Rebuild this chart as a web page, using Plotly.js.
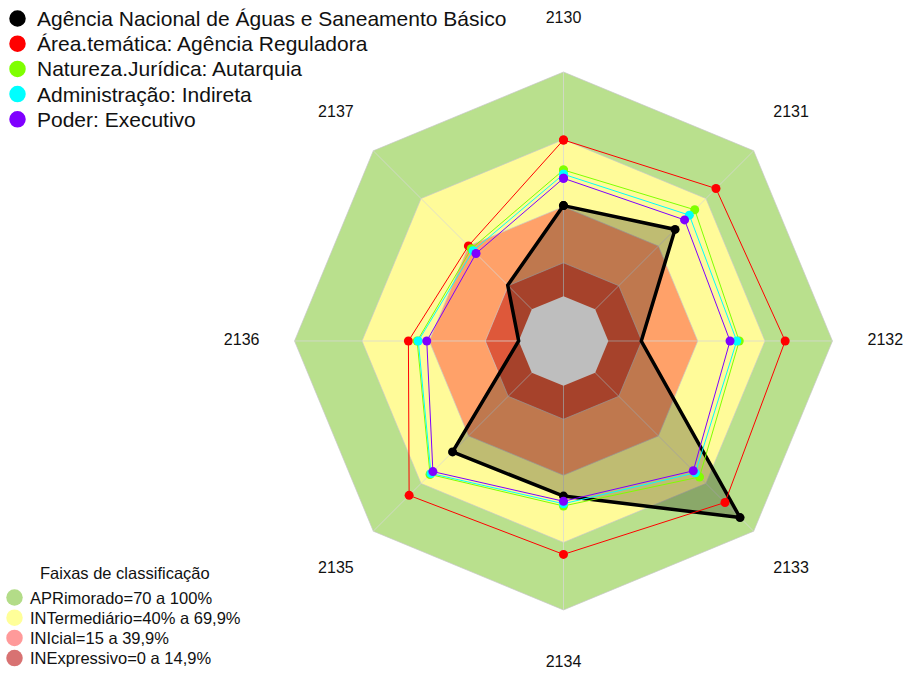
<!DOCTYPE html>
<html><head><meta charset="utf-8">
<script src="https://cdn.plot.ly/plotly-3.0.1.min.js"></script>
<style>html,body{margin:0;padding:0;background:#fff}</style>
</head><body><div id="chart" style="width:907px;height:673px"></div>
<script>
// ---- data ----
const categories = ['2130','2131','2132','2133','2134','2135','2136','2137'];
const seriesNames = [
  'Agência Nacional de Águas e Saneamento Básico',
  'Área.temática: Agência Reguladora',
  'Natureza.Jurídica: Autarquia',
  'Administração: Indireta',
  'Poder: Executivo'
];
const seriesColors = ['#000000', '#FF0000', '#7FFF00', '#00FFFF', '#7F00FF'];
const agencia          = [40.4, 50.4, 14.7, 91.4, 49.2, 50.0, 0.0, 15.2];
const areaTematica     = [69.7, 76.2, 78.9, 81.9, 75.2, 77.4, 49.2, 40.0];
const naturezaJuridica = [56.3, 62.8, 58.4, 65.8, 53.6, 64.2, 45.3, 38.2];
const administracao    = [54.4, 59.4, 57.3, 63.2, 52.6, 63.6, 44.8, 37.0];
const poder            = [52.6, 56.4, 54.3, 61.9, 51.5, 62.4, 41.0, 35.2];
const seriesValues = [agencia, areaTematica, naturezaJuridica, administracao, poder];

const bandTitle  = 'Faixas de classificação';
const bandNames  = ['APRimorado=70 a 100%', 'INTermediário=40% a 69,9%', 'INIcial=15 a 39,9%', 'INExpressivo=0 a 14,9%'];
const bandUpper  = [100, 69.9, 39.9, 14.9];
const bandColors = ['#B9E08D', '#FFFB99', '#FFA169', '#DE583A'];
const bandLegendColors = ['#B3DC88', '#FFFF99', '#FF9A9A', '#D87272'];
const centerValue = 0;
const radialRange = [-20, 125];
const labelRadius = 123.6;

// ---- helpers ----
const W = 907, H = 673;
const closeLoop = a => a.concat([a[0]]);
const thetaClosed = closeLoop(categories);
const fontFam = 'Arial, "Liberation Sans", sans-serif';
const px = x => x / W, py = y => 1 - y / H;

const traces = [];
// classification bands (outer to inner)
bandUpper.forEach((v, i) => {
  traces.push({
    type: 'scatterpolar', mode: 'lines', fill: 'toself',
    r: closeLoop(categories.map(() => v)), theta: thetaClosed,
    fillcolor: bandColors[i], line: {color: 'rgba(200,200,200,0.7)', width: 1},
    showlegend: false, hoverinfo: 'skip'
  });
});
// spokes over the bands
categories.forEach(c => {
  traces.push({
    type: 'scatterpolar', mode: 'lines',
    r: [radialRange[0], bandUpper[0]], theta: [c, c],
    line: {color: 'rgba(215,215,215,0.75)', width: 1},
    showlegend: false, hoverinfo: 'skip'
  });
});
// fill of the main series
traces.push({
  type: 'scatterpolar', mode: 'lines', fill: 'toself',
  r: closeLoop(agencia), theta: thetaClosed,
  fillcolor: 'rgba(0,0,0,0.25)', line: {width: 0, color: 'rgba(0,0,0,0)'},
  showlegend: false, hoverinfo: 'skip'
});
// grey centre
traces.push({
  type: 'scatterpolar', mode: 'lines', fill: 'toself',
  r: closeLoop(categories.map(() => centerValue)), theta: thetaClosed,
  fillcolor: '#BEBEBE', line: {width: 0, color: 'rgba(0,0,0,0)'},
  showlegend: false, hoverinfo: 'skip'
});
// series lines + markers
seriesValues.forEach((vals, i) => {
  traces.push({
    type: 'scatterpolar', mode: 'lines+markers', name: seriesNames[i],
    r: closeLoop(vals), theta: thetaClosed,
    line: {color: seriesColors[i], width: i === 0 ? 3.5 : 1},
    marker: {color: seriesColors[i], size: 9},
    showlegend: false, hoverinfo: 'skip'
  });
});
// category labels
traces.push({
  type: 'scatterpolar', mode: 'text',
  r: categories.map(() => labelRadius), theta: categories,
  text: categories, textposition: 'middle center',
  textfont: {family: fontFam, size: 16, color: '#111'},
  cliponaxis: false, showlegend: false, hoverinfo: 'skip'
});

// ---- legends (drawn as shapes + text) ----
const shapes = [], annotations = [];
const circle = (cx, cy, d, color) => ({
  type: 'circle', xref: 'paper', yref: 'paper', xsizemode: 'pixel', ysizemode: 'pixel',
  xanchor: px(cx), yanchor: py(cy), x0: -d / 2, x1: d / 2, y0: -d / 2, y1: d / 2,
  fillcolor: color, line: {width: 0}, layer: 'above'
});
const label = (x, y, text, size, anchor) => ({
  xref: 'paper', yref: 'paper', x: px(x), y: py(y), text: text, showarrow: false,
  xanchor: anchor || 'left', yanchor: 'middle', font: {family: fontFam, size: size, color: '#111'}
});
const leg1 = {markerX: 17.5, textX: 35, top: 18.5, step: 25.2};
seriesNames.forEach((n, i) => {
  const y = leg1.top + i * leg1.step;
  shapes.push(circle(leg1.markerX, y, 16.5, seriesColors[i]));
  annotations.push(label(leg1.textX, y, n, 21));
});
const leg2 = {titleX: 125, titleY: 573, markerX: 14.5, textX: 27.5, top: 597.5, step: 20.2};
annotations.push(label(leg2.titleX, leg2.titleY, bandTitle, 16.5, 'center'));
bandNames.forEach((n, i) => {
  const y = leg2.top + i * leg2.step;
  shapes.push(circle(leg2.markerX, y, 16.5, bandLegendColors[i]));
  annotations.push(label(leg2.textX, y, n, 16.5));
});

const layout = {
  width: W, height: H,
  margin: {l: 0, r: 0, t: 0, b: 0, autoexpand: false},
  paper_bgcolor: '#ffffff',
  font: {family: fontFam, color: '#111'},
  showlegend: false,
  shapes: shapes,
  annotations: annotations,
  polar: {
    domain: {x: [0.26295, 0.97960], y: [0.0104, 0.97623]},
    gridshape: 'linear',
    bgcolor: 'rgba(0,0,0,0)',
    radialaxis: {range: radialRange, showticklabels: false, ticks: '', showline: false, showgrid: false},
    angularaxis: {type: 'category', categoryarray: categories, direction: 'clockwise',
                  rotation: 90, showticklabels: false, ticks: '', showline: false, showgrid: false}
  }
};

Plotly.newPlot('chart', traces, layout, {staticPlot: true});
</script></body></html>
